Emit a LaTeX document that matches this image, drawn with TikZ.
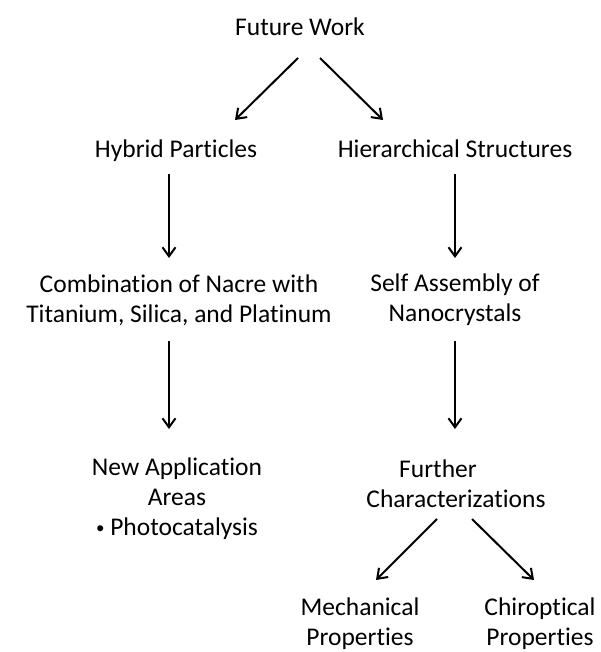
\documentclass[tikz,border=0pt]{standalone}
\usepackage{fontspec}
\setmainfont{Carlito}[Ligatures=NoCommon]
\usetikzlibrary{arrows.meta}
\tikzset{
  txt/.style={inner sep=0pt, align=center, font=\fontsize{25.5}{30}\selectfont},
  arr/.style={line width=2pt, -{Straight Barb[length=9pt,width=13pt,line width=2pt]}}
}
\newcommand{\smallbullet}{{\fontsize{17}{17}\selectfont\raisebox{2.5pt}{•}}}
\begin{document}
\begin{tikzpicture}[x=1pt,y=-1pt]
\useasboundingbox (0,0) rectangle (601,652);
% tree of topics
\node[txt, anchor=base] (fw) at (300,36) {Future Work};
\node[txt, anchor=base] (hp) at (176,158) {Hybrid Particles};
\node[txt, anchor=base] (hs) at (455,158) {Hierarchical Structures};
\node[txt] (cn) at (179,300) {Combination of Nacre with\\Titanium, Silica, and Platinum};
\node[txt] (sa) at (455,300) {Self Assembly of\\Nanocrystals};
\node[txt] (na) at (177,499) {New Application\\Areas\\\smallbullet\ Photocatalysis};
\node[txt] (fc) at (456,484) {Further\rule{36pt}{0pt}\\Characterizations};
\node[txt] (mp) at (360,624) {Mechanical\\Properties};
\node[txt] (cp) at (540,624) {Chiroptical\\Properties};
% arrows
\draw[arr] ([shift={(-2,22)}]fw.base) -- ([shift={(59,-38)}]hp.base);
\draw[arr] ([shift={(20,22)}]fw.base) -- ([shift={(-72,-38)}]hs.base);
\draw[arr] ([shift={(-7,16)}]hp.base) -- ([shift={(-10,-42)}]cn.center);
\draw[arr] ([shift={(0,16)}]hs.base) -- ([shift={(0,-42)}]sa.center);
\draw[arr] ([shift={(-10,41)}]cn.center) -- ([shift={(-8,-70)}]na.center);
\draw[arr] ([shift={(0,41)}]sa.center) -- ([shift={(-1,-55)}]fc.center);
\draw[arr] ([shift={(-19,35)}]fc.center) -- ([shift={(16,-44)}]mp.center);
\draw[arr] ([shift={(16,35)}]fc.center) -- ([shift={(-6,-44)}]cp.center);
\end{tikzpicture}
\end{document}
